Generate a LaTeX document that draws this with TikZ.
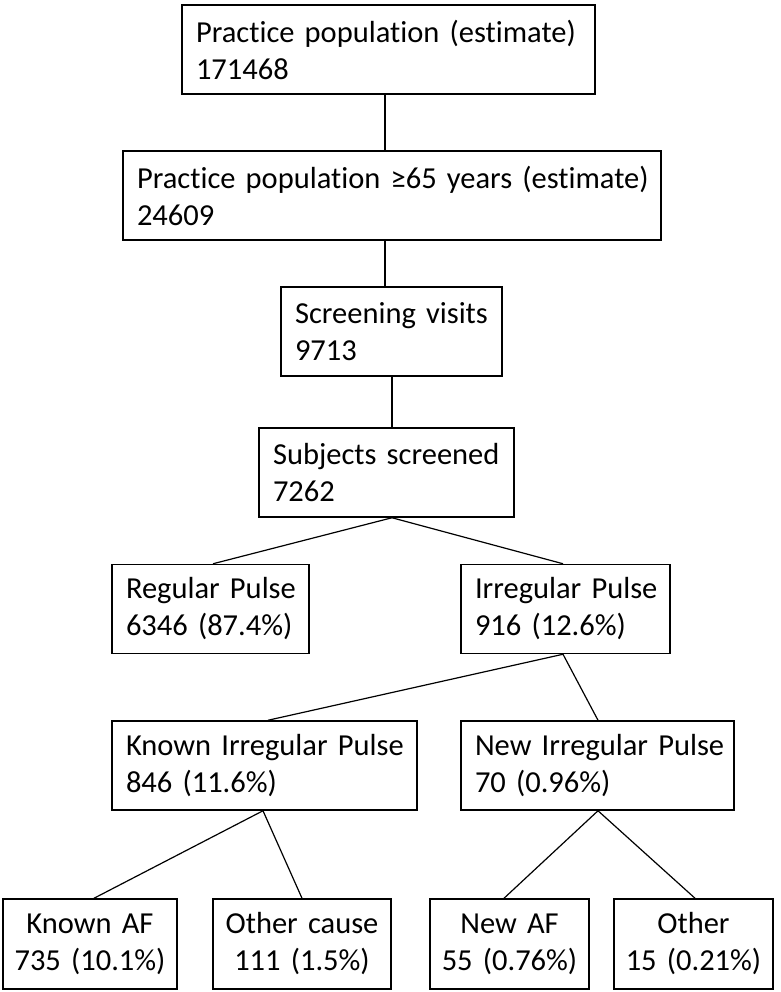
\documentclass[tikz,border=0pt]{standalone}
\usepackage{fontspec}
\setmainfont{Carlito}[Ligatures={NoCommon}]
\newcommand\nolti{t\kern0pt i}
\begin{document}
\begin{tikzpicture}[x=1pt,y=-1pt,
  box/.style={draw, line width=1.5pt, inner xsep=14pt, inner ysep=0pt,
    minimum height=89pt, align=left,
    font=\fontsize{30.5}{37}\selectfont},
  cbox/.style={box, inner xsep=4pt, align=center},
  link/.style={line width=1.2pt}]
\useasboundingbox (0,0) rectangle (780,992);
\fill[white] (0,0) rectangle (780,992);

\node[box, text width=385pt] (n1) at (388.5,49.5) {\mbox{Practice popula\nolti on (es\nolti mate)}\\171468};
\node[box, text width=510pt] (n2) at (392,195.5) {\mbox{Practice popula\nolti on ≥65 years (es\nolti mate)}\\24609};
\node[box, text width=193pt] (n3) at (391.5,331.5) {\mbox{Screening visits}\\9713};
\node[box, text width=227pt] (n4) at (386.5,472.5) {\mbox{Subjects screened}\\7262};
\node[box, text width=169pt] (n5) at (210.5,609) {\mbox{Regular Pulse}\\\mbox{6346 (87.4\%)}};
\node[box, text width=181pt] (n6) at (565.5,609) {\mbox{Irregular Pulse}\\\mbox{916 (12.6\%)}};
\node[box, text width=277pt] (n7) at (264.5,765.5) {\mbox{Known Irregular Pulse}\\\mbox{846 (11.6\%)}};
\node[box, text width=245pt] (n8) at (597.5,765.5) {\mbox{New Irregular Pulse}\\\mbox{70 (0.96\%)}};
\node[cbox, text width=166pt, minimum height=90pt] (n9) at (90,944) {\mbox{Known AF}\\\mbox{735 (10.1\%)}};
\node[cbox, text width=170pt, minimum height=90pt] (n10) at (302,944) {\mbox{Other cause}\\\mbox{111 (1.5\%)}};
\node[cbox, text width=151pt, minimum height=90pt] (n11) at (509.5,944) {\mbox{New AF}\\\mbox{55 (0.76\%)}};
\node[cbox, text width=151pt, minimum height=90pt] (n12) at (693.5,944) {\mbox{Other}\\\mbox{15 (0.21\%)}};

\draw[link] ([xshift=-3.5pt]n1.south) -- ([xshift=-7pt]n2.north);
\draw[link] ([xshift=-7pt]n2.south) -- ([xshift=-6.5pt]n3.north);
\draw[link] ([xshift=0.5pt]n3.south) -- ([xshift=5.5pt]n4.north);
\draw[link] ([xshift=5.5pt]n4.south) -- ([xshift=2.5pt]n5.north);
\draw[link] ([xshift=5.5pt]n4.south) -- ([xshift=-2.5pt]n6.north);
\draw[link] ([xshift=-2.5pt]n6.south) -- ([xshift=3.5pt]n7.north);
\draw[link] ([xshift=-2.5pt]n6.south) -- ([xshift=0.5pt]n8.north);
\draw[link] ([xshift=-1.5pt]n7.south) -- ([xshift=4pt]n9.north);
\draw[link] ([xshift=-1.5pt]n7.south) -- (n10.north);
\draw[link] ([xshift=0.5pt]n8.south) -- ([xshift=-5.5pt]n11.north);
\draw[link] ([xshift=0.5pt]n8.south) -- ([xshift=1.5pt]n12.north);
\end{tikzpicture}
\end{document}
